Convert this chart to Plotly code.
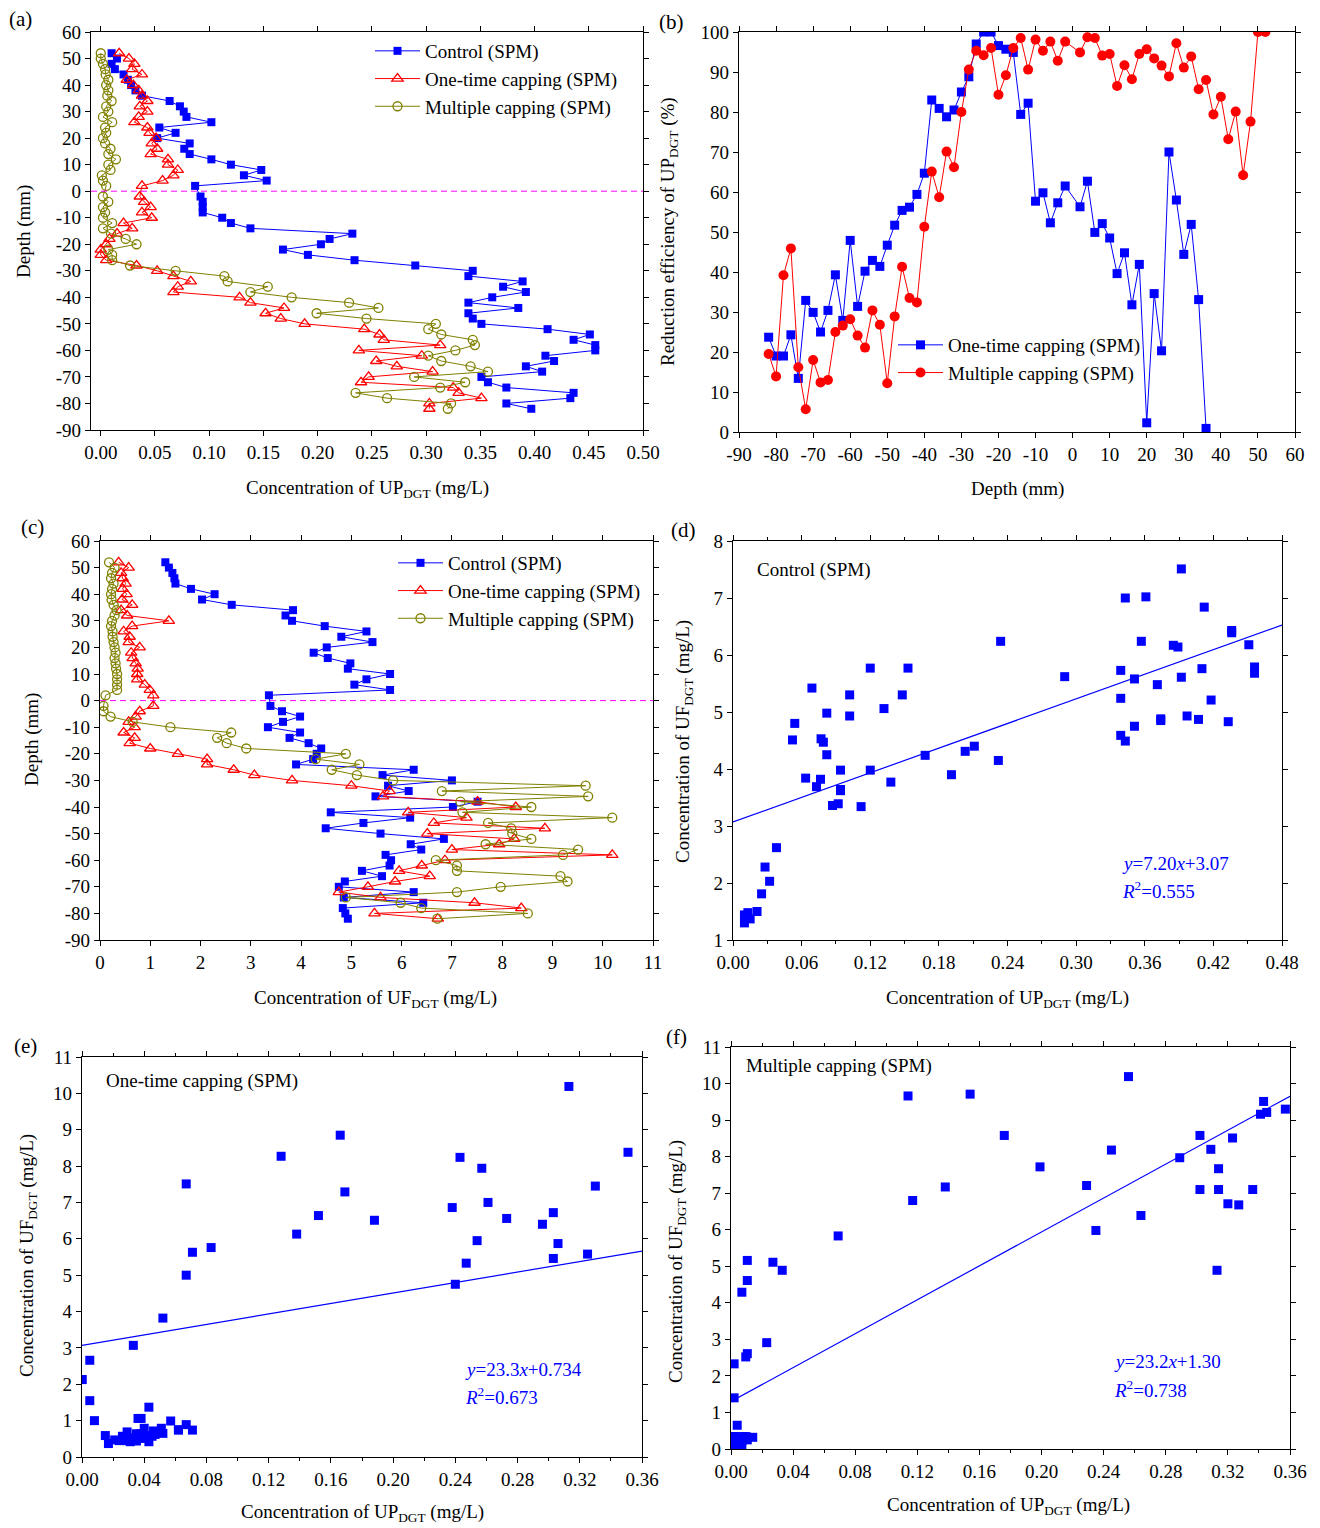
import plotly.graph_objects as go

# ---------------- data ----------------
depth = [52, 50, 48, 46, 44, 42, 40, 38, 36, 34, 32, 30, 28, 26, 24, 22, 20, 18, 16, 14, 12, 10, 8, 6, 4, 2,
         -2, -4, -6, -8, -10, -12, -14, -16, -18, -20, -22, -24, -26, -28, -30, -32, -34, -36, -38, -40,
         -42, -44, -46, -48, -50, -52, -54, -56, -58, -60, -62, -64, -66, -68, -70, -72, -74, -76, -78, -80, -82]

up_control = [0.010, 0.015, 0.010, 0.013, 0.021, 0.025, 0.028, 0.032, 0.038, 0.0635, 0.073, 0.0765, 0.079,
              0.102, 0.054, 0.069, 0.052, 0.082, 0.077, 0.082, 0.102, 0.120, 0.148, 0.132, 0.153, 0.087,
              0.092, 0.094, 0.094, 0.094, 0.112, 0.120, 0.138, 0.232, 0.211, 0.203, 0.168, 0.191, 0.234,
              0.290, 0.343, 0.339, 0.389, 0.371, 0.392, 0.361, 0.339, 0.385, 0.339, 0.343, 0.351, 0.412,
              0.451, 0.436, 0.456, 0.456, 0.410, 0.418, 0.392, 0.407, 0.351, 0.357, 0.374, 0.436, 0.433,
              0.374, 0.397]
up_onetime = [0.017, 0.026, 0.031, 0.029, 0.038, 0.024, 0.030, 0.035, 0.038, 0.043, 0.036, 0.043, 0.035,
              0.031, 0.043, 0.045, 0.051, 0.047, 0.052, 0.046, 0.062, 0.062, 0.071, 0.067, 0.057, 0.038,
              0.036, 0.040, 0.046, 0.038, 0.047, 0.021, 0.029, 0.015, 0.008, 0.005, 0.000, 0.000, 0.005,
              0.033, 0.052, 0.067, 0.083, 0.071, 0.067, 0.128, 0.138, 0.169, 0.152, 0.166, 0.188, 0.243,
              0.257, 0.261, 0.313, 0.238, 0.296, 0.254, 0.273, 0.306, 0.247, 0.240, 0.325, 0.330, 0.351,
              0.303, 0.303]
up_multiple = [0.000, 0.000, 0.002, 0.004, 0.0045, 0.007, 0.005, 0.007, 0.006, 0.010, 0.005, 0.007, 0.002,
               0.0105, 0.004, 0.005, 0.002, 0.004, 0.009, 0.007, 0.014, 0.007, 0.009, 0.001, 0.002, 0.005,
               0.002, 0.007, 0.002, 0.004, 0.002, 0.0105, 0.002, 0.0095, 0.023, 0.033, 0.007, 0.0105, 0.0105,
               0.027, 0.069, 0.114, 0.117, 0.154, 0.138, 0.176, 0.229, 0.256, 0.199, 0.245, 0.309, 0.302,
               0.314, 0.343, 0.345, 0.327, 0.302, 0.314, 0.341, 0.357, 0.289, 0.336, 0.313, 0.235, 0.264,
               0.323, 0.320]

uf_control = [1.30, 1.37, 1.44, 1.48, 1.50, 1.81, 2.28, 2.03, 2.62, 3.84, 3.69, 3.82, 4.47, 5.30, 4.80, 5.42,
              4.51, 4.25, 4.53, 4.98, 4.93, 5.77, 5.30, 5.06, 5.77, 3.36,
              3.39, 3.62, 3.98, 3.64, 3.34, 3.98, 3.77, 4.15, 4.40, 4.31, 4.24, 3.90, 6.24, 5.62, 7.00, 5.73,
              6.14, 5.48, 7.51, 7.02, 4.59, 6.17, 5.24, 4.49, 5.58, 6.84, 6.18, 6.39, 5.68, 5.79, 5.76, 5.21,
              5.61, 4.87, 4.75, 6.24, 4.85, 6.43, 4.83, 4.88, 4.93]
uf_onetime = [0.37, 0.57, 0.42, 0.45, 0.51, 0.45, 0.53, 0.44, 0.64, 0.42, 0.54, 1.37, 0.64, 0.47, 0.59, 0.57,
              0.79, 0.62, 0.65, 0.71, 0.75, 0.74, 0.74, 0.89, 0.99, 1.06,
              1.06, 0.79, 0.71, 0.57, 0.69, 0.47, 0.69, 0.59, 1.00, 1.55, 2.13, 2.13, 2.66, 3.07, 3.82, 5.00,
              5.76, 5.63, 7.51, 8.27, 6.13, 7.29, 6.64, 8.85, 6.51, 8.24, 7.94, 7.00, 10.19, 6.86, 6.40, 5.95,
              6.56, 5.87, 5.33, 4.75, 5.58, 7.45, 8.38, 5.46, 6.72]
uf_multiple = [0.18, 0.29, 0.24, 0.22, 0.27, 0.24, 0.22, 0.23, 0.27, 0.33, 0.29, 0.24, 0.22, 0.25, 0.25, 0.27,
               0.29, 0.31, 0.29, 0.31, 0.32, 0.34, 0.34, 0.34, 0.34, 0.11,
               0.07, 0.07, 0.21, 0.65, 1.40, 2.61, 2.33, 2.52, 2.91, 4.89, 4.29, 5.16, 4.61, 5.11, 5.83, 9.66,
               6.80, 9.71, 7.17, 8.58, 7.21, 10.19, 7.72, 8.18, 8.20, 8.58, 7.67, 9.51, 9.21, 6.68, 7.10, 7.10,
               9.16, 9.30, 7.97, 7.10, 4.89, 5.98, 6.39, 8.51, 6.71]

b_depth_onetime = [-82, -80, -78, -76, -74, -72, -70, -68, -66, -64, -62, -60, -58, -56, -54, -52, -50, -48,
                   -46, -44, -42, -40, -38, -36, -34, -32, -30, -28, -26, -24, -22, -20, -18, -16, -14, -12,
                   -10, -8, -6, -4, -2, 2, 4, 6, 8, 10, 12, 14, 16, 18, 20, 22, 24, 26, 28, 30, 32, 34, 36]
b_eff_onetime = [23.7, 19.0, 19.0, 24.3, 13.4, 32.9, 29.9, 25.0, 30.4, 39.3, 27.9, 47.9, 31.4, 40.2, 42.9,
                 41.4, 46.7, 51.7, 55.4, 56.2, 59.4, 64.7, 83.0, 80.9, 78.8, 80.5, 85.0, 88.8, 97.0, 100.0,
                 100.0, 96.6, 95.7, 94.9, 79.4, 82.2, 57.7, 59.8, 52.3, 57.3, 61.5, 56.3, 62.7, 49.9, 52.1,
                 48.5, 39.6, 44.8, 31.8, 41.9, 2.3, 34.6, 20.3, 70.0, 58.0, 44.4, 51.9, 33.1, 0.9]
b_depth_multiple = [-82, -80, -78, -76, -74, -72, -70, -68, -66, -64, -62, -60, -58, -56, -54, -52, -50, -48,
                    -46, -44, -42, -40, -38, -36, -34, -32, -30, -28, -26, -24, -22, -20, -18, -16, -14, -12,
                    -10, -8, -6, -4, -2, 2, 4, 6, 8, 10, 12, 14, 16, 18, 20, 22, 24, 26, 28, 30, 32, 34, 36,
                    38, 40, 42, 44, 46, 48, 50, 52]
b_eff_multiple = [19.5, 13.9, 39.2, 45.9, 16.2, 5.7, 18.0, 12.4, 13.0, 25.0, 26.6, 28.2, 24.1, 21.1, 30.4,
                  26.8, 12.2, 28.9, 41.3, 33.5, 32.4, 51.3, 65.1, 58.7, 70.1, 66.2, 80.0, 90.6, 95.3, 94.2,
                  96.0, 84.3, 89.2, 96.0, 98.5, 90.6, 98.1, 95.3, 97.6, 92.8, 97.6, 94.9, 98.7, 98.5, 94.1,
                  94.5, 86.5, 91.7, 88.2, 94.5, 95.7, 93.4, 91.6, 88.9, 97.2, 91.1, 93.9, 85.7, 88.0, 79.4,
                  83.8, 73.2, 80.1, 64.2, 77.6, 100.0, 100.0]

# tick labels (plain hyphen minus, as in the reference)
depth_tickvals = [60, 50, 40, 30, 20, 10, 0, -10, -20, -30, -40, -50, -60, -70, -80, -90]
depth_ticktext = ["60", "50", "40", "30", "20", "10", "0", "-10", "-20", "-30", "-40", "-50", "-60", "-70",
                  "-80", "-90"]
b_x_tickvals = [-90, -80, -70, -60, -50, -40, -30, -20, -10, 0, 10, 20, 30, 40, 50, 60]
b_x_ticktext = ["-90", "-80", "-70", "-60", "-50", "-40", "-30", "-20", "-10", "0", "10", "20", "30", "40",
                "50", "60"]

series_names = ["Control (SPM)", "One-time capping (SPM)", "Multiple capping (SPM)"]
eq_labels = ["<i>y</i>=7.20<i>x</i>+3.07", "<i>y</i>=23.3<i>x</i>+0.734", "<i>y</i>=23.2<i>x</i>+1.30"]
r2_labels = ["<i>R</i><sup>2</sup>=0.555", "<i>R</i><sup>2</sup>=0.673", "<i>R</i><sup>2</sup>=0.738"]
line_slope = [7.20, 7.20, 23.2]        # regression lines as drawn in the reference
line_intercept = [3.07, 3.07, 1.30]
line_xmax = [0.48, 0.36, 0.36]

# ---------------- styling ----------------
FONT = "Liberation Serif"
W, H = 1320, 1528
BLUE, RED, OLIVE, MAG = "#0000FF", "#FF0000", "#808000", "#FF00FF"
FS = 19


def fx(p):
    return p / W


def fy(p):
    return 1 - p / H


fig = go.Figure()

# ----- panel (a) -----
fig.add_trace(go.Scatter(x=up_control, y=depth, mode="lines+markers", name=series_names[0],
                         line=dict(color=BLUE, width=1), marker=dict(symbol="square", size=8, color=BLUE),
                         xaxis="x", yaxis="y", legend="legend"))
fig.add_trace(go.Scatter(x=up_onetime, y=depth, mode="lines+markers", name=series_names[1],
                         line=dict(color=RED, width=1),
                         marker=dict(symbol="triangle-up-open", size=10, color=RED, line=dict(width=1.3, color=RED)),
                         xaxis="x", yaxis="y", legend="legend"))
fig.add_trace(go.Scatter(x=up_multiple, y=depth, mode="lines+markers", name=series_names[2],
                         line=dict(color=OLIVE, width=1),
                         marker=dict(symbol="circle-open", size=9, color=OLIVE, line=dict(width=1.3, color=OLIVE)),
                         xaxis="x", yaxis="y", legend="legend"))

# ----- panel (b) -----
fig.add_trace(go.Scatter(x=b_depth_onetime, y=b_eff_onetime, mode="lines+markers", name=series_names[1],
                         line=dict(color=BLUE, width=1), marker=dict(symbol="square", size=9, color=BLUE),
                         xaxis="x2", yaxis="y2", legend="legend2"))
fig.add_trace(go.Scatter(x=b_depth_multiple, y=b_eff_multiple, mode="lines+markers", name=series_names[2],
                         line=dict(color=RED, width=1), marker=dict(symbol="circle", size=10, color=RED),
                         xaxis="x2", yaxis="y2", legend="legend2"))

# ----- panel (c) -----
fig.add_trace(go.Scatter(x=uf_control, y=depth, mode="lines+markers", name=series_names[0],
                         line=dict(color=BLUE, width=1), marker=dict(symbol="square", size=8, color=BLUE),
                         xaxis="x3", yaxis="y3", legend="legend3"))
fig.add_trace(go.Scatter(x=uf_onetime, y=depth, mode="lines+markers", name=series_names[1],
                         line=dict(color=RED, width=1),
                         marker=dict(symbol="triangle-up-open", size=10, color=RED, line=dict(width=1.3, color=RED)),
                         xaxis="x3", yaxis="y3", legend="legend3"))
fig.add_trace(go.Scatter(x=uf_multiple, y=depth, mode="lines+markers", name=series_names[2],
                         line=dict(color=OLIVE, width=1),
                         marker=dict(symbol="circle-open", size=9, color=OLIVE, line=dict(width=1.3, color=OLIVE)),
                         xaxis="x3", yaxis="y3", legend="legend3"))

# ----- panels (d), (e), (f): UP vs UF scatter, paired by depth -----
pairs = [(up_control, uf_control, "x4", "y4"),
         (up_onetime, uf_onetime, "x5", "y5"),
         (up_multiple, uf_multiple, "x6", "y6")]
for i, (ux, uf_vals, xa, ya) in enumerate(pairs):
    fig.add_trace(go.Scatter(x=ux, y=uf_vals, mode="markers", showlegend=False,
                             marker=dict(symbol="square", size=9, color=BLUE),
                             xaxis=xa, yaxis=ya))
    xs = [0, line_xmax[i]]
    fig.add_trace(go.Scatter(x=xs, y=[line_slope[i] * v + line_intercept[i] for v in xs], mode="lines",
                             showlegend=False, line=dict(color=BLUE, width=1.2), xaxis=xa, yaxis=ya))


def axis(domain, rng, dtick, anchor, fmt=None, minor=None, tickvals=None, ticktext=None):
    d = dict(domain=domain, range=rng, dtick=dtick, tick0=0, anchor=anchor, showline=True,
             linecolor="black", linewidth=1.4, mirror="ticks", ticks="outside", ticklen=5, tickwidth=1.3,
             tickcolor="black", showgrid=False, zeroline=False, automargin=False,
             tickfont=dict(family=FONT, size=FS, color="black"))
    if fmt:
        d["tickformat"] = fmt
    if minor:
        d["minor"] = dict(dtick=minor, ticks="outside", ticklen=3, tickwidth=1.2, tickcolor="black", showgrid=False)
    if tickvals is not None:
        d["tickmode"] = "array"
        d["tickvals"] = tickvals
        d["ticktext"] = ticktext
    return d


# pixel boxes of the six plot areas
box = {
    "a": (91, 643, 32, 430),
    "b": (739, 1295, 32, 432),
    "c": (100, 653, 541, 940),
    "d": (733, 1282, 541, 940),
    "e": (82, 642, 1057, 1457),
    "f": (731, 1290, 1047, 1449),
}


def dom(k):
    x0, x1, y0, y1 = box[k]
    return [fx(x0), fx(x1)], [fy(y1), fy(y0)]


da = dom("a"); db = dom("b"); dc = dom("c"); dd = dom("d"); de = dom("e"); df = dom("f")

layout = dict(
    template="none",
    width=W, height=H, margin=dict(l=0, r=0, t=0, b=0, autoexpand=False),
    paper_bgcolor="white", plot_bgcolor="white",
    font=dict(family=FONT, size=FS, color="black"),
    xaxis=axis(da[0], [-0.009, 0.50], 0.05, "y", ".2f"),
    yaxis=axis(da[1], [-90, 60], 10, "x", tickvals=depth_tickvals, ticktext=depth_ticktext),
    xaxis2=axis(db[0], [-90, 60], 10, "y2", tickvals=b_x_tickvals, ticktext=b_x_ticktext),
    yaxis2=axis(db[1], [0, 100], 10, "x2"),
    xaxis3=axis(dc[0], [0, 11], 1, "y3"),
    yaxis3=axis(dc[1], [-90, 60], 10, "x3", tickvals=depth_tickvals, ticktext=depth_ticktext),
    xaxis4=axis(dd[0], [0, 0.48], 0.06, "y4", ".2f", 0.03),
    yaxis4=axis(dd[1], [1, 8], 1, "x4"),
    xaxis5=axis(de[0], [0, 0.36], 0.04, "y5", ".2f", 0.02),
    yaxis5=axis(de[1], [0, 11], 1, "x5"),
    xaxis6=axis(df[0], [0, 0.36], 0.04, "y6", ".2f", 0.02),
    yaxis6=axis(df[1], [0, 11], 1, "x6"),
)

leg_common = dict(xanchor="left", yanchor="top", bgcolor="rgba(0,0,0,0)", borderwidth=0,
                  font=dict(family=FONT, size=FS, color="black"), itemwidth=45, tracegroupgap=0)
layout["legend"] = dict(x=fx(370), y=fy(32), **leg_common)
layout["legend2"] = dict(x=fx(893), y=fy(326), **leg_common)
layout["legend3"] = dict(x=fx(393), y=fy(544), **leg_common)

fig.update_layout(**layout)

# dashed sediment-water interface lines
for xr, yr in [("x", "y"), ("x3", "y3")]:
    fig.add_shape(type="line", xref=f"{xr} domain", x0=0, x1=1, yref=yr, y0=0, y1=0,
                  line=dict(color=MAG, width=1, dash="6px,4px"))

ann = []


def text(s, xpx, ypx, size=FS, xanchor="center", yanchor="middle", angle=0, color="black"):
    ann.append(dict(text=s, x=fx(xpx), y=fy(ypx), xref="paper", yref="paper", showarrow=False,
                    xanchor=xanchor, yanchor=yanchor, textangle=angle,
                    font=dict(family=FONT, size=size, color=color)))


up_title = "Concentration of UP<sub>DGT</sub> (mg/L)"
uf_title = "Concentration of UF<sub>DGT</sub> (mg/L)"

# panel labels
text("(a)", 21, 19, 21)
text("(b)", 671, 22, 21)
text("(c)", 32, 527, 21)
text("(d)", 683, 530, 21)
text("(e)", 25, 1046, 21)
text("(f)", 676, 1037, 21)

# axis titles
text(up_title, 367, 489)
text("Depth (mm)", 24, 232, angle=-90)
text("Depth (mm)", 1017, 489)
text("Reduction efficiency of UP<sub>DGT</sub> (%)", 669, 232, angle=-90)
text(uf_title, 375, 999)
text("Depth (mm)", 32, 740, angle=-90)
text(up_title, 1007, 999)
text(uf_title, 684, 742, angle=-90)
text(up_title, 362, 1513)
text(uf_title, 28, 1256, angle=-90)
text(up_title, 1008, 1506)
text(uf_title, 677, 1262, angle=-90)

# in-panel labels
text("Control (SPM)", 755, 570, xanchor="left")
text("One-time capping (SPM)", 104, 1081, xanchor="left")
text("Multiple capping (SPM)", 744, 1066, xanchor="left")

eq_pos = [(1120, 863, 890), (463, 1369, 1396), (1112, 1361, 1389)]
for i, (xl, y1, y2) in enumerate(eq_pos):
    text(eq_labels[i], xl, y1, 19, xanchor="left", color=BLUE)
    text(r2_labels[i], xl, y2, 19, xanchor="left", color=BLUE)

fig.update_layout(annotations=ann)

fig.write_html("out.html", config={"displayModeBar": False},
               post_script="document.body.style.margin='0';document.body.style.overflow='hidden';")
